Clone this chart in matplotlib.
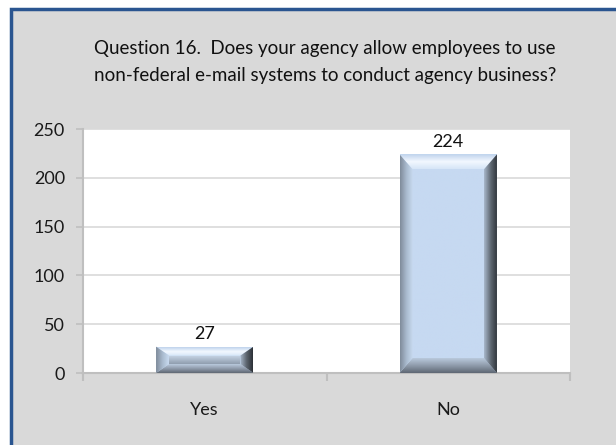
import matplotlib
matplotlib.use("Agg")
import matplotlib.pyplot as plt
from matplotlib.patches import Rectangle, Polygon
from matplotlib.colors import LinearSegmentedColormap
import numpy as np

categories = ["Yes", "No"]
values = [27, 224]
yticks = [0, 50, 100, 150, 200, 250]
title = "Question 16.  Does your agency allow employees to use\nnon-federal e-mail systems to conduct agency business?"

plt.rcParams['font.family'] = ['Lato', 'DejaVu Sans']
fs_title, fs_tick, fs_val = 13.5, 13, 13

W, H = 616, 445
fig = plt.figure(figsize=(W/100, H/100), dpi=100)
fig.patch.set_facecolor('white')
fig.patches.append(Rectangle((11/W, -0.05), 1.1, 1 - 9/H + 0.05, transform=fig.transFigure,
                             facecolor='#d9d9d9', edgecolor='#2a5590', linewidth=2.5, zorder=-5))

ax = fig.add_axes([83/W, 1 - 373/H, (570-83)/W, (373-129)/H])
ax.set_zorder(2)
ax.set_facecolor('white')
x = np.arange(len(categories))
bw = 0.4
ax.set_xlim(-0.5, len(categories) - 0.5)
ax.set_ylim(0, 250)
ax.set_yticks(yticks)
ax.yaxis.grid(True, color='#d9d9d9', linewidth=1.2)
ax.set_axisbelow(True)
for s in ['top', 'right']:
    ax.spines[s].set_visible(False)
for s in ['left', 'bottom']:
    ax.spines[s].set_color('#bfbfbf')
    ax.spines[s].set_linewidth(1.5)
ax.tick_params(axis='y', length=5, color='#bfbfbf', width=1.2, labelsize=fs_tick, pad=8, labelcolor='#1a1a1a')
ax.set_xticks(x)
ax.set_xticklabels(categories)
ax.tick_params(axis='x', length=0, labelsize=fs_tick, pad=21, labelcolor='#1a1a1a')
ax.set_xticks(np.arange(len(categories) + 1) - 0.5, minor=True)
ax.tick_params(axis='x', which='minor', length=6, color='#bfbfbf', width=1.5)

bars = ax.bar(x, values, width=bw, color='#c6d9f1', edgecolor='none', zorder=2)

fig.canvas.draw()
inv = ax.transData.inverted()

def to_data(pts):
    return inv.transform(np.array(pts, dtype=float))

def grad_face(pts, colors, direction, outer_first):
    """Fill polygon (display px) with a gradient, clipped to polygon."""
    d = to_data(pts)
    poly = Polygon(d, closed=True, facecolor='none', edgecolor='none', transform=ax.transData)
    ax.add_patch(poly)
    cmap = LinearSegmentedColormap.from_list('g', colors)
    n = 64
    t = np.linspace(0, 1, n) if outer_first else np.linspace(1, 0, n)
    arr = t[None, :] if direction == 'h' else t[:, None]
    xmin, xmax = d[:, 0].min(), d[:, 0].max()
    ymin, ymax = d[:, 1].min(), d[:, 1].max()
    im = ax.imshow(arr, cmap=cmap, vmin=0, vmax=1, extent=(xmin, xmax, ymin, ymax),
                   origin='lower', aspect='auto', interpolation='bilinear', zorder=3)
    im.set_clip_path(poly)

for b in bars:
    x0, y0 = b.get_x(), b.get_y()
    x1, y1 = x0 + b.get_width(), y0 + b.get_height()
    (px0, py0) = ax.transData.transform((x0, y0))
    (px1, py1) = ax.transData.transform((x1, y1))
    hpx = py1 - py0
    bh = min(15, hpx * 0.34)
    bwp = 13
    o = [(px0, py0), (px1, py0), (px1, py1), (px0, py1)]
    i = [(px0 + bwp, py0 + bh), (px1 - bwp, py0 + bh), (px1 - bwp, py1 - bh), (px0 + bwp, py1 - bh)]
    center_cols = ['#c6d9f1', '#c6d9f1'] if hpx > 60 else ['#8f9dae', '#c9d7e8']
    grad_face(i, center_cols, 'v', True)
    grad_face([o[3], o[2], i[2], i[3]], ['#bfd3ec', '#f2f8ff', '#d6e5f7'], 'v', False)  # top
    grad_face([o[0], o[1], i[1], i[0]], ['#5f6874', '#8f9bab', '#b9c9dc'], 'v', True)   # bottom
    grad_face([o[0], o[3], i[3], i[0]], ['#7f8b9a', '#a9bace', '#c8daf0'], 'h', True)   # left
    grad_face([o[1], o[2], i[2], i[1]], ['#2b3036', '#5d6670', '#a8b8cb'], 'h', False)  # right
    ax.annotate(str(int(b.get_height())), (b.get_x() + b.get_width()/2, y1), xytext=(0, 3),
                textcoords='offset points', ha='center', va='bottom', fontsize=fs_val, color='#111111')

ax.set_xlim(-0.5, len(categories) - 0.5)
ax.set_ylim(0, 250)

fig.text(0.528, 1 - 62/H, title, ha='center', va='center', fontsize=fs_title, color='#111111', linespacing=1.68)

fig.savefig('out.png', dpi=100, facecolor=fig.get_facecolor())
